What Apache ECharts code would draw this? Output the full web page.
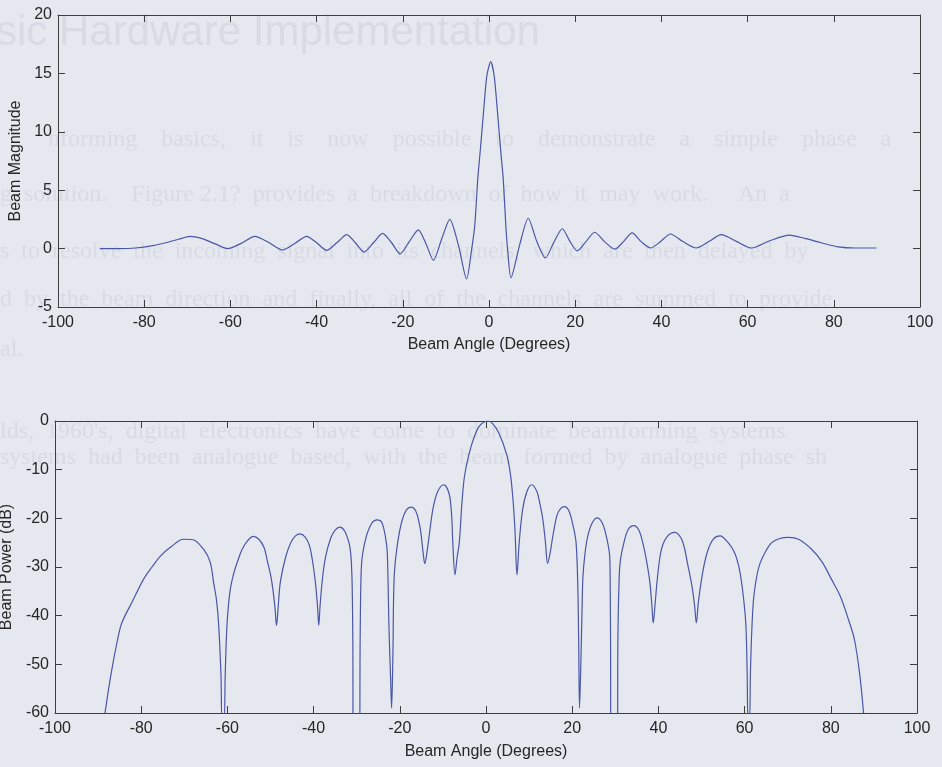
<!DOCTYPE html>
<html>
<head>
<meta charset="utf-8">
<script src="https://cdn.jsdelivr.net/npm/echarts@6/dist/echarts.min.js"></script>
<style>
html,body{margin:0;padding:0;background:#e5e8ef;}
#c{width:942px;height:767px;}
</style>
</head>
<body>
<div id="c"></div>
<script>
// ---- Top plot: Beam Magnitude vs Beam Angle ----
var magAngles = [-90.3,-86,-82,-78,-75,-72,-69.4,-66.5,-63.5,-60.6,-57.5,-54.3,-51,-47.9,-45,-42.3,-40,-37.7,-35.3,-33.0,-31,-29.0,-26.8,-24.7,-22.6,-20.6,-18.5,-16.4,-14.6,-12.9,-11,-9.1,-7.1,-5.2,-4.0,-3.3,-2.6,-2.0,-1.2,-0.5,0.4,1.2,1.9,2.8,3.3,3.9,4.3,5.1,7.1,9.1,11.1,13.1,15.0,17.0,18.8,20.5,22.5,24.5,26.8,29.2,31.2,33.2,35.3,37.5,39.8,42.1,45,48.1,51,53.9,57.5,60.9,65,69.7,73.5,77.1,81,85,89.9];
var magValues = [0,0,0.05,0.25,0.5,0.8,1.05,0.85,0.4,0.0,0.45,1.05,0.5,-0.12,0.45,1.05,0.5,-0.15,0.5,1.2,0.5,-0.3,0.5,1.3,0.5,-0.45,0.6,1.6,0.4,-1.0,0.8,2.5,0.3,-2.6,0,2,6,8.5,12,14.8,16,14.8,12,8,6,2,0,-2.5,0.3,2.6,0.6,-0.8,0.5,1.7,0.6,-0.2,0.6,1.4,0.6,-0.05,0.6,1.35,0.6,0.05,0.6,1.25,0.6,0.05,0.6,1.2,0.6,0.05,0.65,1.15,0.85,0.5,0.15,0.05,0.05];

// ---- Bottom plot: Beam Power (dB) vs Beam Angle ----
var dbAngles = [-88.4,-87,-85.5,-84.5,-82,-79.5,-77.5,-75.6,-73,-70.2,-68,-65.5,-64,-63.2,-62.5,-62.0,-61.5,-61.2,-60.8,-60.5,-60.1,-59.4,-58.5,-57.5,-56.6,-55.3,-54.0,-52.7,-51.5,-50.8,-49.8,-49.0,-48.6,-48.2,-47.7,-46.5,-45.3,-44.2,-43.2,-42,-41,-40.3,-39.6,-39.1,-38.8,-38.5,-37.9,-37.2,-36,-35,-33.9,-32.8,-31.8,-31.4,-31.1,-30.9,-30.8,-29.4,-29.2,-29,-28.7,-27.8,-26.5,-25.3,-24.2,-23.3,-22.9,-22.5,-22.1,-21.9,-21.6,-21.3,-20.5,-19.5,-18.5,-17.4,-16.3,-15.5,-15.1,-14.6,-14.2,-13.7,-13.2,-12.3,-11.2,-9.8,-8.6,-8.0,-7.7,-7.2,-6.7,-6.2,-5.6,-5.0,-4,-2.7,-1.5,0,0.5,1.5,3,4.7,5.6,6.2,6.7,7.2,7.7,8.5,9.5,10.6,11.8,12.5,13.2,13.8,14.3,14.9,15.5,16.5,17.3,18.2,19.2,20.2,20.9,21.3,21.5,21.7,22,22.3,22.5,23.0,23.6,24.6,25.8,27,28.0,28.7,28.8,28.9,29.0,30.5,30.6,30.9,31.2,32,33,34.3,35.5,36.5,37.2,38,38.5,38.8,39.2,39.8,40.7,42,43.8,45.5,46.9,47.8,48.4,48.8,49.3,50.4,51.5,52.8,54.3,56,57.7,58.8,59.7,60.3,60.6,60.8,61.1,61.4,62.0,62.8,63.6,65,66.3,68,70.2,72.5,75.6,78,80.2,82.2,84.1,85.5,86.7,87.6];
var dbValues = [-60,-52,-45,-41.5,-37,-32.6,-30,-27.8,-25.8,-24.3,-24.4,-26.4,-29,-33.2,-37,-42.2,-52,-62,-62,-52,-42,-35,-31.2,-28.5,-26.4,-24.6,-23.7,-24.3,-26,-28.5,-32.5,-38,-42,-38,-33,-28,-25,-23.6,-23.2,-23.8,-25.5,-28.5,-33,-38,-42,-38,-32,-27.8,-24,-22.4,-21.8,-22.6,-25,-27.1,-32,-45,-70,-70,-45,-32,-27.8,-23.8,-21,-20.3,-20.8,-24,-27.1,-42.8,-53.8,-59,-48,-31.9,-25,-20.5,-18.3,-17.7,-18.5,-21,-23,-27,-29.3,-27,-23.7,-18,-14.5,-13.1,-14.8,-19,-25,-31.6,-28,-25,-17,-11.4,-7,-3.2,-1,-0.05,0,-0.5,-2.5,-6.6,-10.5,-15.5,-22,-31.6,-25,-18.2,-14.5,-13.1,-14.5,-17,-20.3,-25,-29.3,-27,-23.7,-19.3,-18,-17.6,-18.4,-21.5,-25,-34,-45,-59,-50,-38,-31.9,-27,-23.7,-21,-19.9,-21,-24,-27.8,-32,-45,-70,-70,-45,-32,-28.5,-25,-22.3,-21.5,-22.5,-25.5,-28.5,-33,-38,-41.5,-38,-32,-26.4,-23.8,-22.9,-24.5,-29.9,-34,-38,-41.5,-37,-30.5,-26.5,-24.2,-23.6,-24.8,-27.1,-30.5,-36,-42,-52,-62,-62,-50,-37.4,-32,-29.2,-26.6,-25,-24.2,-23.9,-24.3,-26.4,-29,-32.6,-36,-40.8,-45,-52,-60];

// ---- tick settings ----
var angleMin = -100, angleMax = 100, angleStep = 20;
var magMin = -5, magMax = 20, magStep = 5;
var dbMin = -60, dbMax = 0, dbStep = 10;

// ---- faint bleed-through text of the scanned page ----
var ghostLines = [
  {t:'sic Hardware Implementation', x:-4, y:12, s:42, f:'Liberation Sans'},
  {t:'nforming    basics,    it    is    now    possible    to    demonstrate    a    simple    phase    a', x:48, y:128, s:24, f:'Liberation Serif'},
  {t:'g  solution.    Figure 2.1?  provides  a  breakdown  of  how  it  may  work.     An  a', x:0, y:183, s:24, f:'Liberation Serif'},
  {t:'s  to  resolve  the  incoming  signal  into  its  channels,  which  are  then  delayed  by', x:0, y:240, s:24, f:'Liberation Serif'},
  {t:'d  by  the  beam  direction  and  finally,  all  of  the  channels  are  summed  to  provide', x:0, y:288, s:24, f:'Liberation Serif'},
  {t:'al.', x:0, y:338, s:24, f:'Liberation Serif'},
  {t:'lds,  1960\'s,  digital  electronics  have  come  to  dominate  beamforming  systems', x:0, y:420, s:24, f:'Liberation Serif'},
  {t:'systems  had  been  analogue  based,  with  the  beam  formed  by  analogue  phase  sh', x:0, y:446, s:24, f:'Liberation Serif'}
];

function pairs(xs, ys){ var o=[]; for(var i=0;i<xs.length;i++) o.push([xs[i], ys[i]]); return o; }

var FONT = 'Liberation Sans';
var TXT = '#262626';
var AX = '#3d3d3d';
var LINE = '#4b56a6';

function xAx(gi, pos, name, gap){
  return {
    gridIndex: gi, type:'value', position: pos, min: angleMin, max: angleMax, interval: angleStep,
    axisLine:{show:true, onZero:false, lineStyle:{color:AX, width:1}},
    axisTick:{show:true, inside:true, length:7, lineStyle:{color:AX}},
    axisLabel:{show: pos==='bottom', fontSize:16, color:TXT, fontFamily:FONT, margin:8},
    splitLine:{show:false},
    name: name || '', nameLocation:'middle', nameGap: gap || 29,
    nameTextStyle:{fontSize:16, color:TXT, fontFamily:FONT}
  };
}
function yAx(gi, pos, mn, mx, st, name, gap){
  return {
    gridIndex: gi, type:'value', position: pos, min: mn, max: mx, interval: st,
    axisLine:{show:true, onZero:false, lineStyle:{color:AX, width:1}},
    axisTick:{show:true, inside:true, length:7, lineStyle:{color:AX}},
    axisLabel:{show: pos==='left', fontSize:16, color:TXT, fontFamily:FONT, margin:6},
    splitLine:{show:false},
    name: name || '', nameLocation:'middle', nameGap: gap || 30,
    nameTextStyle:{fontSize:16, color:TXT, fontFamily:FONT}
  };
}

var chart = echarts.init(document.getElementById('c'), null, {renderer:'canvas'});
var graphics = ghostLines.map(function(g){
  return {type:'text', left:g.x, top:g.y, z:-10, silent:true,
    style:{text:g.t, font: g.s+'px "'+g.f+'"', fill:'#d8dbe3'}};
});

chart.setOption({
  backgroundColor:'#e5e8ef',
  animation:false,
  graphic: graphics,
  grid:[
    {left:58, right:22, top:15, height:292, outerBoundsMode:'none', containLabel:false},
    {left:55, right:25, top:421, height:292, outerBoundsMode:'none', containLabel:false}
  ],
  xAxis:[
    xAx(0,'bottom','Beam Angle (Degrees)', 30),
    xAx(0,'top'),
    xAx(1,'bottom','Beam Angle (Degrees)', 31),
    xAx(1,'top')
  ],
  yAxis:[
    yAx(0,'left',magMin,magMax,magStep,'Beam Magnitude',32),
    yAx(0,'right',magMin,magMax,magStep),
    yAx(1,'left',dbMin,dbMax,dbStep,'Beam Power (dB)',37),
    yAx(1,'right',dbMin,dbMax,dbStep)
  ],
  series:[
    {type:'line', xAxisIndex:0, yAxisIndex:0, data:pairs(magAngles, magValues),
     showSymbol:false, smooth:0.25, clip:true, lineStyle:{color:LINE, width:1.2}},
    {type:'line', xAxisIndex:2, yAxisIndex:2, data:pairs(dbAngles, dbValues),
     showSymbol:false, smooth:0.35, clip:true, lineStyle:{color:LINE, width:1.2}}
  ]
});
</script>
</body>
</html>
